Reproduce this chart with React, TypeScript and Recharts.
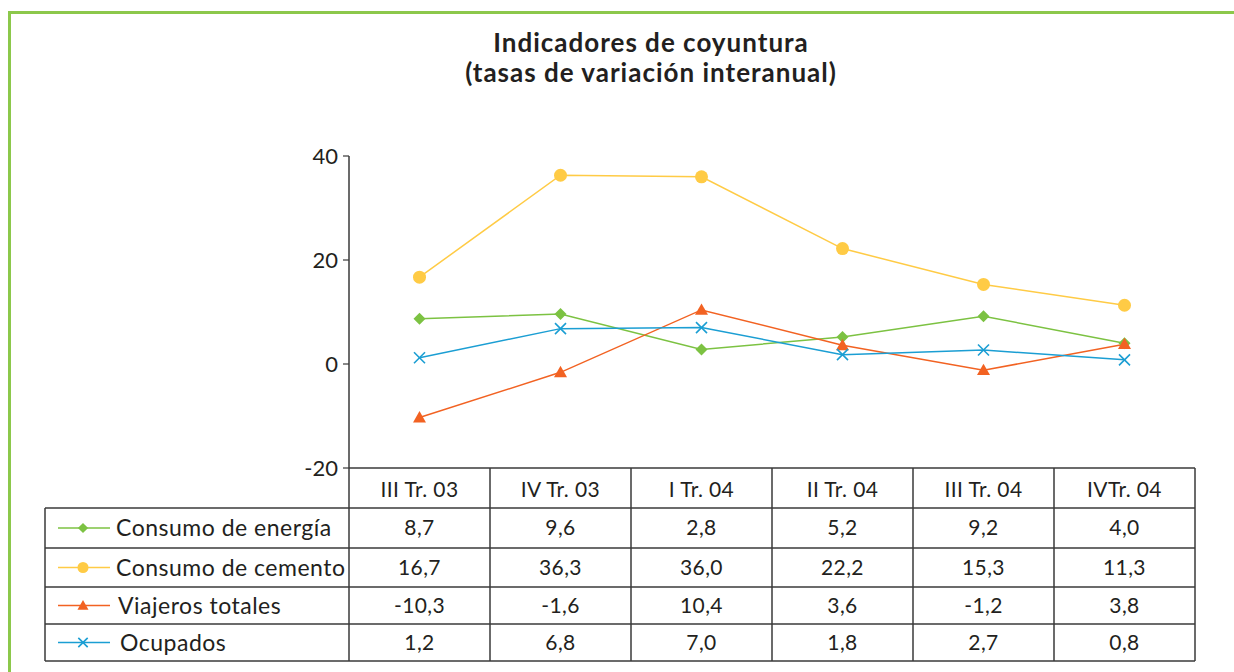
import React from 'react';
import { LineChart, Line, XAxis, YAxis } from 'recharts';

const categories = ['III Tr. 03', 'IV Tr. 03', 'I Tr. 04', 'II Tr. 04', 'III Tr. 04', 'IVTr. 04'];
const energia = [8.7, 9.6, 2.8, 5.2, 9.2, 4.0];
const cemento = [16.7, 36.3, 36.0, 22.2, 15.3, 11.3];
const viajeros = [-10.3, -1.6, 10.4, 3.6, -1.2, 3.8];
const ocupados = [1.2, 6.8, 7.0, 1.8, 2.7, 0.8];
const seriesNames = ['Consumo de energía', 'Consumo de cemento', 'Viajeros totales', 'Ocupados'];
const yTicks = [-20, 0, 20, 40];
const titleLines = ['Indicadores de coyuntura', '(tasas de variación interanual)'];

const seriesValues = [energia, cemento, viajeros, ocupados];
const seriesKeys = ['energia', 'cemento', 'viajeros', 'ocupados'];
const colors = ['#7cc242', '#ffcb45', '#f26222', '#1b9ed3'];

const data = categories.map((c, i) => ({
  cat: c,
  energia: energia[i],
  cemento: cemento[i],
  viajeros: viajeros[i],
  ocupados: ocupados[i],
}));

const FONT = 'Lato, "Open Sans", sans-serif';
const INK = '#231f20';
const GRID = '#3a3a3a';

// layout
const PLOT_LEFT = 349;
const PLOT_RIGHT = 1195;
const PLOT_TOP = 156;
const PLOT_BOTTOM = 468;
const TABLE_LEFT = 45;
const ROW_LINES = [508, 548, 587, 624, 661];
const COL_W = (PLOT_RIGHT - PLOT_LEFT) / categories.length;

function marker(idx: number, cx: number, cy: number, key?: string, scale = 1) {
  const c = colors[idx];
  if (idx === 0) {
    const s = 6 * scale;
    return <path key={key} d={`M${cx},${cy - s}L${cx + s},${cy}L${cx},${cy + s}L${cx - s},${cy}Z`} fill={c} />;
  }
  if (idx === 1) {
    return <circle key={key} cx={cx} cy={cy} r={6.5 * scale} fill={c} />;
  }
  if (idx === 2) {
    const s = 6.5 * scale;
    return <path key={key} d={`M${cx},${cy - s}L${cx + s},${cy + s * 0.75}L${cx - s},${cy + s * 0.75}Z`} fill={c} />;
  }
  const s = 5.5 * scale;
  return (
    <g key={key}>
      <line x1={cx - s} y1={cy - s} x2={cx + s} y2={cy + s} stroke={c} strokeWidth={1.6} />
      <line x1={cx - s} y1={cy + s} x2={cx + s} y2={cy - s} stroke={c} strokeWidth={1.6} />
    </g>
  );
}

const makeDot = (idx: number) => (props: any) => {
  const { cx, cy, index } = props;
  if (cx == null || cy == null) return <g key={`d${idx}-${index}`} />;
  return marker(idx, cx, cy, `d${idx}-${index}`);
};

const HeaderTick = (props: any) => {
  const { x, y, payload } = props;
  return (
    <text x={x} y={y + 29} textAnchor="middle" fontFamily={FONT} fontSize={21} letterSpacing={0.4} fill={INK}>
      {payload.value}
    </text>
  );
};

const fmt = (v: number) => v.toFixed(1).replace('.', ',');

export default function App() {
  const yAxisWidth = 60;
  const xAxisHeight = 40;
  return (
    <div style={{ position: 'absolute', left: 0, top: 0, width: 1234, height: 672, background: '#fff', overflow: 'hidden' }}>
      {/* green frame */}
      <div style={{ position: 'absolute', left: 7.5, top: 11, width: 1240, height: 700, borderLeft: '3px solid #8cc84b', borderTop: '3px solid #8cc84b' }} />
      <div style={{ position: 'absolute', left: 0, top: 0 }}>
        <LineChart
          width={1234}
          height={672}
          data={data}
          margin={{ top: PLOT_TOP, left: PLOT_LEFT - yAxisWidth, right: 1234 - PLOT_RIGHT, bottom: 672 - PLOT_BOTTOM - xAxisHeight }}
        >
          <XAxis
            dataKey="cat"
            height={xAxisHeight}
            padding={{ left: COL_W / 2, right: COL_W / 2 }}
            tickLine={false}
            tickSize={0}
            tickMargin={0}
            axisLine={{ stroke: GRID, strokeWidth: 1.5 }}
            tick={<HeaderTick />}
            interval={0}
          />
          <YAxis
            width={yAxisWidth}
            domain={[-20, 40]}
            ticks={yTicks}
            tickSize={6}
            tickMargin={5}
            axisLine={{ stroke: GRID, strokeWidth: 1.5 }}
            tickLine={{ stroke: GRID, strokeWidth: 1.2 }}
            tick={{ fontFamily: FONT, fontSize: 22, fill: INK }}
          />
          {seriesKeys.map((k, i) => (
            <Line
              key={k}
              type="linear"
              dataKey={k}
              stroke={colors[i]}
              strokeWidth={1.5}
              dot={makeDot(i)}
              activeDot={false}
              isAnimationActive={false}
            />
          ))}
        </LineChart>
      </div>
      {/* title */}
      <div style={{ position: 'absolute', left: 0, top: 27, width: 1302, textAlign: 'center', fontFamily: FONT, fontWeight: 700, fontSize: 26, letterSpacing: 1, lineHeight: '30px', color: INK }}>
        {titleLines.map((t) => (
          <div key={t}>{t}</div>
        ))}
      </div>
      {/* data table */}
      <svg width={1234} height={672} style={{ position: 'absolute', left: 0, top: 0, pointerEvents: 'none' }}>
        {Array.from({ length: categories.length + 1 }).map((_, i) => {
          const x = PLOT_LEFT + i * COL_W;
          return <line key={`v${i}`} x1={x} y1={PLOT_BOTTOM} x2={x} y2={ROW_LINES[ROW_LINES.length - 1]} stroke={GRID} strokeWidth={1.5} />;
        })}
        <line x1={TABLE_LEFT} y1={ROW_LINES[0]} x2={TABLE_LEFT} y2={ROW_LINES[ROW_LINES.length - 1]} stroke={GRID} strokeWidth={1.5} />
        {ROW_LINES.map((y, i) => (
          <line key={`h${i}`} x1={TABLE_LEFT} y1={y} x2={PLOT_RIGHT} y2={y} stroke={GRID} strokeWidth={1.5} />
        ))}
        {seriesNames.map((name, r) => {
          const cy = (ROW_LINES[r] + ROW_LINES[r + 1]) / 2;
          return (
            <g key={name}>
              <line x1={58} y1={cy} x2={110} y2={cy} stroke={colors[r]} strokeWidth={1.5} />
              {marker(r, 83, cy, undefined, 0.85)}
              <text x={r === 3 ? 120 : r === 2 ? 118 : 116} y={cy + 8} fontFamily={FONT} fontSize={23} letterSpacing={0.5} fill={INK}>
                {name}
              </text>
              {seriesValues[r].map((v, c) => (
                <text key={c} x={PLOT_LEFT + (c + 0.5) * COL_W} y={cy + 7} textAnchor="middle" fontFamily={FONT} fontSize={21} letterSpacing={0.4} fill={INK}>
                  {fmt(v)}
                </text>
              ))}
            </g>
          );
        })}
      </svg>
    </div>
  );
}
